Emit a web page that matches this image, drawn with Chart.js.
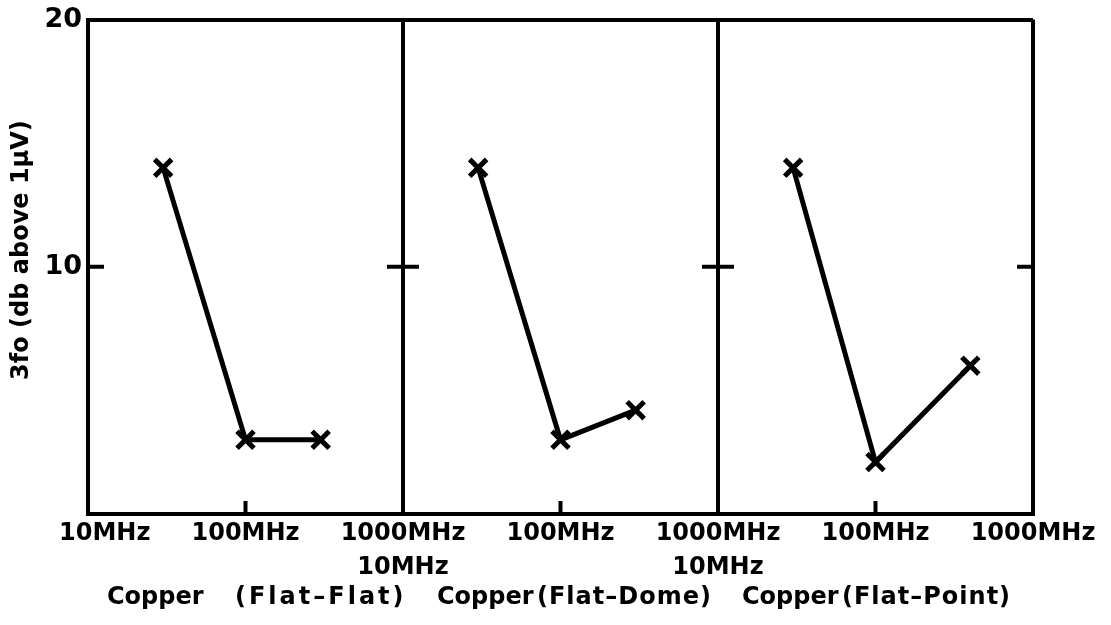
<!DOCTYPE html>
<html>
<head>
<meta charset="utf-8">
<title>3fo vs frequency, copper contacts</title>
<script src="https://cdn.jsdelivr.net/npm/chart.js@4/dist/chart.umd.min.js"></script>
<style>
  body { margin: 0; background: #fff; }
  #wrap { position: relative; width: 1111px; height: 625px; }
  .panel-title {
    position: absolute;
    top: 582px;
    font: bold 24px "DejaVu Sans", sans-serif;
    white-space: pre;
    color: #000;
  }
  #mat0 { left: 107px; }  #con0 { left: 235px; letter-spacing: 3px; }
  #mat1 { left: 437px; }  #con1 { left: 537px; letter-spacing: 1px; }
  #mat2 { left: 742px; }  #con2 { left: 842px; letter-spacing: 1px; }
</style>
</head>
<body>
<div id="wrap">
  <canvas id="contactChart" width="1111" height="625"></canvas>
  <span class="panel-title" id="mat0"></span><span class="panel-title" id="con0"></span>
  <span class="panel-title" id="mat1"></span><span class="panel-title" id="con1"></span>
  <span class="panel-title" id="mat2"></span><span class="panel-title" id="con2"></span>
</div>
<script>
// Third-harmonic level (db above 1 uV) for three copper contact shapes
const panelMaterial = ['Copper', 'Copper', 'Copper'];
const panelContact = ['(Flat–Flat)', '(Flat–Dome)', '(Flat–Point)'];
const freqTicks = [10, 100, 1000];
const freqLabels = ['10MHz', '100MHz', '1000MHz'];
const levelTicks = [10, 20];
const yTitle = '    3fo (db above 1μV)';

const flatFlatFreq = [30, 100, 300];
const flatFlatLevel = [14, 3, 3];
const flatDomeFreq = [30, 100, 300];
const flatDomeLevel = [14, 3, 4.2];
const flatPointFreq = [30, 100, 400];
const flatPointLevel = [14, 2.1, 6];

const axisIds = ['x1', 'x2', 'x3'];
const FONT = '"DejaVu Sans", sans-serif';

panelMaterial.forEach((m, i) => {
    document.getElementById('mat' + i).textContent = m;
    document.getElementById('con' + i).textContent = panelContact[i];
});

const toPoints = (freq, level) => freq.map((f, k) => ({ x: f, y: level[k] }));

const lineStyle = {
    borderColor: '#000',
    borderWidth: 5,
    pointStyle: 'crossRot',
    pointRadius: 12,
    pointBorderWidth: 5,
    pointBorderColor: '#000',
    pointBackgroundColor: '#000',
    tension: 0,
    fill: false
};

// one log axis per panel, laid side by side through the axis stack
function freqAxis(i) {
    return {
        type: 'logarithmic',
        position: 'bottom',
        stack: 'panels',
        stackWeight: 1,
        min: 10,
        max: 1000,
        afterBuildTicks: s => { s.ticks = freqTicks.map(v => ({ value: v })); },
        afterFit: s => { s.height = 111; },
        ticks: {
            autoSkip: false,
            maxRotation: 0,
            minRotation: 0,
            padding: 3,
            color: '#000',
            font: { family: FONT, size: 24, weight: 'bold', lineHeight: 1.4 },
            callback: (value, idx) => {
                if (idx === 0 && i > 0) return ['', freqLabels[0]];
                if (idx === 0) return '    ' + freqLabels[0];
                return freqLabels[idx];
            }
        },
        grid: {
            drawTicks: false,
            lineWidth: 4,
            color: ctx => (ctx.tick && ctx.tick.value === 1000 ? '#000' : 'rgba(0,0,0,0)')
        },
        border: { display: true, color: '#000', width: 4 }
    };
}

// short inward tick marks at 100MHz and at level 10
const innerTicks = {
    id: 'innerTicks',
    afterDraw(chart) {
        const { ctx, chartArea, scales } = chart;
        const yTen = scales.y.getPixelForValue(10);
        ctx.save();
        ctx.strokeStyle = '#000';
        ctx.lineWidth = 4;
        ctx.beginPath();
        axisIds.forEach((id, i) => {
            const sc = scales[id];
            const mid = sc.getPixelForValue(100);
            ctx.moveTo(mid, chartArea.bottom);
            ctx.lineTo(mid, chartArea.bottom - 13);
            const left = sc.getPixelForValue(10);
            ctx.moveTo(i === 0 ? left : left - 16, yTen);
            ctx.lineTo(left + 16, yTen);
        });
        const right = scales.x3.getPixelForValue(1000);
        ctx.moveTo(right - 16, yTen);
        ctx.lineTo(right, yTen);
        ctx.stroke();
        ctx.restore();
    }
};

const scales = {
    y: {
        min: 0,
        max: 20,
        afterBuildTicks: s => { s.ticks = levelTicks.map(v => ({ value: v })); },
        afterFit: s => { s.width = 88; },
        ticks: {
            color: '#000',
            padding: 6,
            font: { family: FONT, size: 27, weight: 'bold', lineHeight: 1 }
        },
        grid: {
            drawTicks: false,
            lineWidth: 4,
            color: ctx => (ctx.tick && ctx.tick.value === 20 ? '#000' : 'rgba(0,0,0,0)')
        },
        border: { display: true, color: '#000', width: 4 },
        title: {
            display: true,
            text: yTitle,
            color: '#000',
            font: { family: FONT, size: 24, weight: 'bold' },
            padding: { top: 7, bottom: 0 }
        }
    }
};
axisIds.forEach((id, i) => { scales[id] = freqAxis(i); });

new Chart(document.getElementById('contactChart'), {
    type: 'line',
    data: {
        datasets: [
            { label: 'Flat-Flat', data: toPoints(flatFlatFreq, flatFlatLevel), xAxisID: 'x1', ...lineStyle },
            { label: 'Flat-Dome', data: toPoints(flatDomeFreq, flatDomeLevel), xAxisID: 'x2', ...lineStyle },
            { label: 'Flat-Point', data: toPoints(flatPointFreq, flatPointLevel), xAxisID: 'x3', ...lineStyle }
        ]
    },
    options: {
        responsive: false,
        animation: false,
        layout: { padding: { top: 15, right: 78, bottom: 0, left: 0 } },
        plugins: { legend: { display: false }, tooltip: { enabled: false } },
        scales
    },
    plugins: [innerTicks]
});
</script>
</body>
</html>
